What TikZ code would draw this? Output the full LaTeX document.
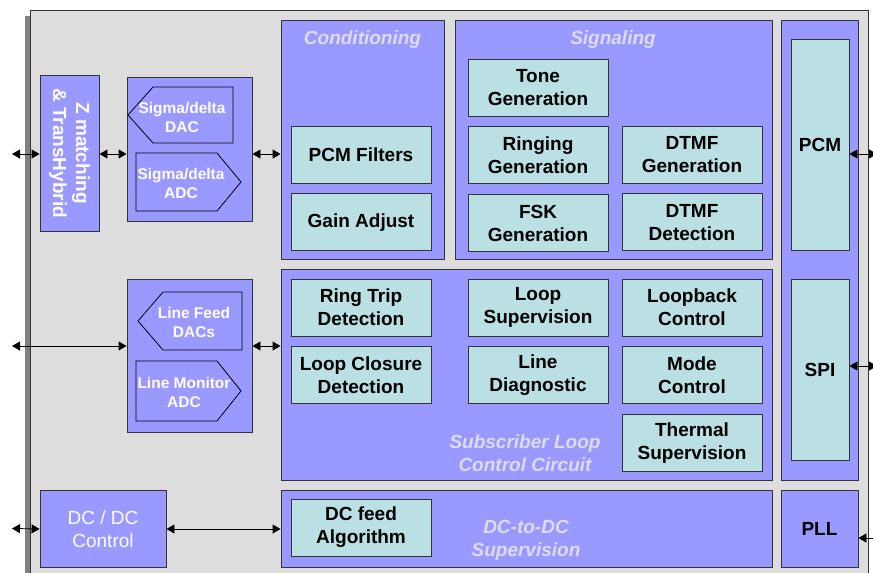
\documentclass[tikz,border=0pt]{standalone}
\usepackage{fontspec}
\setmainfont{Liberation Sans}
\usetikzlibrary{arrows.meta, positioning}
\definecolor{chipgray}{HTML}{DDDDDD}
\definecolor{blkpurple}{HTML}{9999FF}
\definecolor{cellteal}{HTML}{BBE0E3}
\definecolor{ttlgray}{HTML}{DCDCEE}
\definecolor{edge}{HTML}{333333}

\begin{document}
\begin{tikzpicture}[x=1pt, y=-1pt,
    blk/.style={draw=edge, fill=blkpurple, line width=0.9pt, inner sep=0pt},
    cell/.style={draw=edge, fill=cellteal, line width=0.9pt, inner sep=0pt,
      minimum width=140pt, minimum height=57pt, align=center,
      font=\fontsize{19}{23}\selectfont\bfseries},
    conv/.style={draw=black, fill=blkpurple, line width=0.8pt},
    convtxt/.style={text=white, align=center, inner sep=0pt,
      font=\fontsize{15.5}{19}\selectfont\bfseries},
    ttl/.style={text=ttlgray, align=center,
      font=\fontsize{19}{23}\selectfont\bfseries\itshape},
    link/.style={{Triangle[length=8pt,width=9pt]}-{Triangle[length=8pt,width=9pt]}, line width=0.9pt}]
  \useasboundingbox (0,0) rectangle (873,573);

  % chip outline with its dark left edge
  \fill[black!50] (25,16) rectangle (30,600);
  \draw[edge, fill=chipgray, line width=0.9pt] (30,10) rectangle (868,600);

  % left column: hybrid, converters, DC/DC
  \node[blk, rotate=-90, minimum width=156pt, minimum height=59pt, text=white,
    align=center, font=\fontsize{19}{23}\selectfont\bfseries]
    (zmatch) at (69.5,153) {Z matching\\\& TransHybrid};
  \node[blk, minimum width=125pt, minimum height=144pt] (sdgrp) at (189.5,149) {};
  \draw[conv] (128,115) -- (153,87) -- (233,87) -- (233,143) -- (153,143) -- cycle;
  \node[convtxt] (sddac) at (182,117) {Sigma/delta\\DAC};
  \draw[conv] (136,153) -- (217,153) -- (241,182) -- (217,211) -- (136,211) -- cycle;
  \node[convtxt] (sdadc) at (181,183) {Sigma/delta\\ADC};
  \node[blk, minimum width=125pt, minimum height=153pt] (lfgrp) at (189.5,355.5) {};
  \draw[conv] (138,321) -- (163,292) -- (242,292) -- (242,350) -- (163,350) -- cycle;
  \node[convtxt] (lfdac) at (194,322) {Line Feed\\DACs};
  \draw[conv] (136,361) -- (217,361) -- (241,391) -- (217,421) -- (136,421) -- cycle;
  \node[convtxt] (lmadc) at (184,392) {Line Monitor\\ADC};
  \node[blk, minimum width=126pt, minimum height=77pt, text=white, align=center,
    font=\fontsize{19}{23}\selectfont] (dcdc) at (103,529) {DC / DC\\Control};

  % Conditioning
  \node[blk, minimum width=163pt, minimum height=239pt] (cond) at (362.5,139.5) {};
  \node[ttl] (condttl) at (362.5,40) {Conditioning};
  \node[cell] (pcmf) at (361,154.5) {PCM Filters};
  \node[cell, below=10pt of pcmf] (gain) {Gain Adjust};

  % Signaling
  \node[blk, minimum width=317pt, minimum height=239pt] (sig) at (613.5,139.5) {};
  \node[ttl] (sigttl) at (613,40) {Signaling};
  \node[cell] (tone) at (538,87.5) {Tone\\Generation};
  \node[cell, below=10pt of tone] (ring) {Ringing\\Generation};
  \node[cell, below=10pt of ring] (fsk) {FSK\\Generation};
  \node[cell] (dtmfg) at (692,154.5) {DTMF\\Generation};
  \node[cell, below=10pt of dtmfg] (dtmfd) {DTMF\\Detection};

  % Subscriber loop control
  \node[blk, minimum width=491pt, minimum height=211pt] (slc) at (526.5,374.5) {};
  \node[ttl] (slcttl) at (525,453) {Subscriber Loop\\Control Circuit};
  \node[cell] (rtrip) at (361,307.5) {Ring Trip\\Detection};
  \node[cell, below=10pt of rtrip] (lclose) {Loop Closure\\Detection};
  \node[cell] (loopsup) at (538,307.5) {Loop\\Supervision};
  \node[cell, below=10pt of loopsup] (linediag) {Line\\Diagnostic};
  \node[cell] (loopback) at (692,307.5) {Loopback\\Control};
  \node[cell, below=10pt of loopback] (mode) {Mode\\Control};
  \node[cell, below=10pt of mode] (thermal) {Thermal\\Supervision};

  % DC-to-DC
  \node[blk, minimum width=491pt, minimum height=77pt] (dcsup) at (526.5,528.5) {};
  \node[ttl] (dcttl) at (526,540) {DC-to-DC\\Supervision};
  \node[cell] (dcfeed) at (361,527.5) {DC feed\\Algorithm};

  % interfaces
  \node[blk, minimum width=77pt, minimum height=460pt] (iface) at (819.5,250) {};
  \node[cell, minimum width=58pt, minimum height=211pt] (pcm) at (820,144.5) {PCM};
  \node[cell, minimum width=58pt, minimum height=181pt] (spi) at (820,369.5) {SPI};
  \node[blk, minimum width=77pt, minimum height=77pt,
    font=\fontsize{19}{23}\selectfont\bfseries] (pll) at (819.5,528.5) {PLL};

  % outside pins
  \coordinate (pinz) at (12,154);
  \coordinate (pinlf) at (12,346);
  \coordinate (pindc) at (12,528.5);
  \coordinate (pinpcm) at (877,154);
  \coordinate (pinspi) at (877,366);
  \coordinate (pinpll) at (880,538);

  % connectors (zmatch is turned: north is its right side)
  \draw[link] (pinz) -- (pinz -| zmatch.south);
  \draw[link] (pinz -| zmatch.north) -- (pinz -| sdgrp.west);
  \draw[link] (pinz -| sdgrp.east) -- (pinz -| cond.west);
  \draw[link] (pinlf) -- (pinlf -| lfgrp.west);
  \draw[link] (pinlf -| lfgrp.east) -- (pinlf -| slc.west);
  \draw[link] (pindc) -- (dcdc.west);
  \draw[link] (dcdc.east) -- (dcdc.east -| dcsup.west);
  \draw[link] (pinpcm -| pcm.east) -- (pinpcm);
  \draw[link] (pinspi -| spi.east) -- (pinspi);
  \draw[-{Triangle[length=8pt,width=9pt]}, line width=0.9pt] (pinpll) -- (pinpll -| pll.east);
\end{tikzpicture}
\end{document}
